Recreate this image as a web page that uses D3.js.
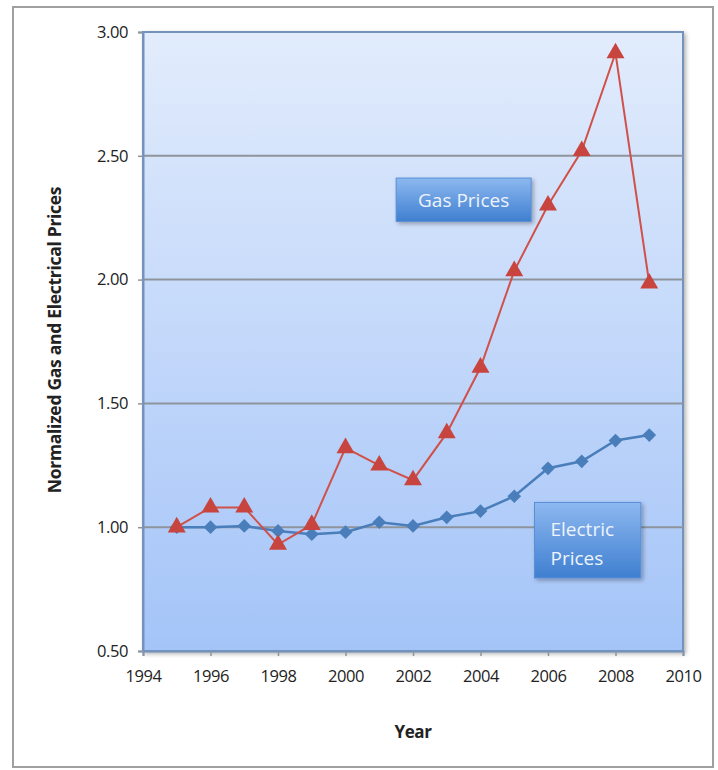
<!DOCTYPE html>
<html>
<head>
<meta charset="utf-8">
<script src="https://cdn.jsdelivr.net/npm/d3@7"></script>
<style>
  body { margin: 0; background: #fff; }
  svg text { font-family: "Open Sans", "DejaVu Sans", sans-serif; }
</style>
</head>
<body>
<div id="chart"></div>
<script>
// data
const years = [1995, 1996, 1997, 1998, 1999, 2000, 2001, 2002, 2003, 2004, 2005, 2006, 2007, 2008, 2009];
const gasPrices = [1.00, 1.08, 1.08, 0.93, 1.01, 1.32, 1.25, 1.19, 1.38, 1.645, 2.035, 2.30, 2.52, 2.915, 1.985];
const electricPrices = [1.00, 1.00, 1.005, 0.985, 0.972, 0.98, 1.02, 1.005, 1.04, 1.065, 1.125, 1.238, 1.266, 1.35, 1.372];
const xTicks = [1994, 1996, 1998, 2000, 2002, 2004, 2006, 2008, 2010];
const yTicks = [0.5, 1.0, 1.5, 2.0, 2.5, 3.0];

const W = 718, H = 770;
const margin = { top: 32, right: 35, bottom: 119, left: 143 },
  width = W - margin.left - margin.right,
  height = H - margin.top - margin.bottom;

const root = d3.select("#chart").append("svg")
  .attr("width", W)
  .attr("height", H);

const defs = root.append("defs");
const grad = defs.append("linearGradient")
  .attr("id", "bg").attr("x1", 0).attr("y1", 0).attr("x2", 0).attr("y2", 1);
grad.append("stop").attr("offset", "0%").attr("stop-color", "#e2ecfc");
grad.append("stop").attr("offset", "100%").attr("stop-color", "#a4c4f8");

const boxGrad = defs.append("linearGradient")
  .attr("id", "box").attr("x1", 0).attr("y1", 0).attr("x2", 0).attr("y2", 1);
boxGrad.append("stop").attr("offset", "0%").attr("stop-color", "#8db8f0");
boxGrad.append("stop").attr("offset", "100%").attr("stop-color", "#3f7fd0");

const shadow = defs.append("filter").attr("id", "shadow")
  .attr("x", "-10%").attr("y", "-10%").attr("width", "130%").attr("height", "130%");
shadow.append("feDropShadow")
  .attr("dx", 2).attr("dy", 2).attr("stdDeviation", 2)
  .attr("flood-color", "#000").attr("flood-opacity", 0.3);

// outer frame
root.append("rect")
  .attr("x", 13).attr("y", 7)
  .attr("width", 700).attr("height", 760)
  .attr("fill", "none")
  .attr("stroke", "#a0a0a0")
  .attr("stroke-width", 2);

const svg = root.append("g")
  .attr("transform", `translate(${margin.left}, ${margin.top})`);

const x = d3.scaleLinear().domain([1994, 2010]).range([0, width]);
const y = d3.scaleLinear().domain([0.5, 3.0]).range([height, 0]);

// plot background
svg.append("rect")
  .attr("width", width).attr("height", height)
  .attr("fill", "url(#bg)")
  .attr("stroke", "#7393bd")
  .attr("stroke-width", 2)
  .attr("filter", "url(#shadow)");

// horizontal grid lines
svg.append("g")
  .selectAll("line")
  .data(yTicks.slice(1, -1))
  .join("line")
  .attr("x1", 0).attr("x2", width)
  .attr("y1", d => y(d)).attr("y2", d => y(d))
  .attr("stroke", "#8e949c")
  .attr("stroke-width", 2);

// axes
const yAxis = svg.append("g")
  .call(d3.axisLeft(y).tickValues(yTicks).tickFormat(d3.format(".2f")).tickSize(5).tickPadding(10));
const xAxis = svg.append("g")
  .attr("transform", `translate(0, ${height})`)
  .call(d3.axisBottom(x).tickValues(xTicks).tickFormat(d3.format("d")).tickSize(5).tickPadding(14));

[yAxis, xAxis].forEach(a => {
  a.select(".domain").attr("stroke", "#7393bd").attr("stroke-width", 2);
  a.selectAll(".tick line").attr("stroke", "#8e949c").attr("stroke-width", 1.5);
  a.selectAll(".tick text")
    .attr("font-family", "'Open Sans', sans-serif")
    .attr("font-size", 16.5)
    .attr("fill", "#222")
    .style("letter-spacing", "-0.4px");
});

// series lines
const line = (vals) => d3.line()
  .x((d, i) => x(years[i]))
  .y(d => y(d))(vals);

svg.append("path")
  .attr("d", line(electricPrices))
  .attr("fill", "none")
  .attr("stroke", "#4a7ebb")
  .attr("stroke-width", 2.5);

svg.append("path")
  .attr("d", line(gasPrices))
  .attr("fill", "none")
  .attr("stroke", "#d0504a")
  .attr("stroke-width", 2);

// markers
svg.append("g")
  .selectAll("path")
  .data(electricPrices)
  .join("path")
  .attr("transform", (d, i) => `translate(${x(years[i])}, ${y(d)})`)
  .attr("d", d3.symbol(d3.symbolDiamond2, 120))
  .attr("fill", "#4a7ebb");

svg.append("g")
  .selectAll("path")
  .data(gasPrices)
  .join("path")
  .attr("transform", (d, i) => `translate(${x(years[i])}, ${y(d)})`)
  .attr("d", d3.symbol(d3.symbolTriangle, 140))
  .attr("fill", "#c8453f");

// text boxes
const labels = [
  { lines: ["Gas Prices"], x0: 2001.5, x1: 2005.5, y0: 2.41, y1: 2.235 },
  { lines: ["Electric", "Prices"], x0: 2005.6, x1: 2008.75, y0: 1.10, y1: 0.795 }
];
labels.forEach(l => {
  const bx = x(l.x0), by = y(l.y0), bw = x(l.x1) - x(l.x0), bh = y(l.y1) - y(l.y0);
  svg.append("rect")
    .attr("x", bx).attr("y", by)
    .attr("width", bw).attr("height", bh)
    .attr("fill", "url(#box)")
    .attr("stroke", "#5a8fd6")
    .attr("stroke-width", 1)
    .attr("filter", "url(#shadow)");
  const t = svg.append("text")
    .attr("font-size", 19)
    .attr("fill", "#eef4fc");
  l.lines.forEach((s, i) => {
    t.append("tspan")
      .attr("x", l.lines.length === 1 ? bx + bw / 2 : bx + 16)
      .attr("y", by + (l.lines.length === 1 ? bh / 2 + 7 : 34 + i * 29))
      .attr("text-anchor", l.lines.length === 1 ? "middle" : "start")
      .text(s);
  });
});

// axis titles
root.append("text")
  .attr("x", 413).attr("y", 738)
  .attr("text-anchor", "middle")
  .attr("font-size", 17)
  .attr("font-weight", "bold")
  .attr("fill", "#222")
  .style("letter-spacing", "-0.4px")
  .text("Year");

root.append("text")
  .attr("transform", "translate(61, 340) rotate(-90)")
  .attr("text-anchor", "middle")
  .attr("font-size", 17.5)
  .attr("font-weight", "bold")
  .attr("fill", "#222")
  .style("letter-spacing", "-0.3px")
  .text("Normalized Gas and Electrical Prices");
</script>
</body>
</html>
